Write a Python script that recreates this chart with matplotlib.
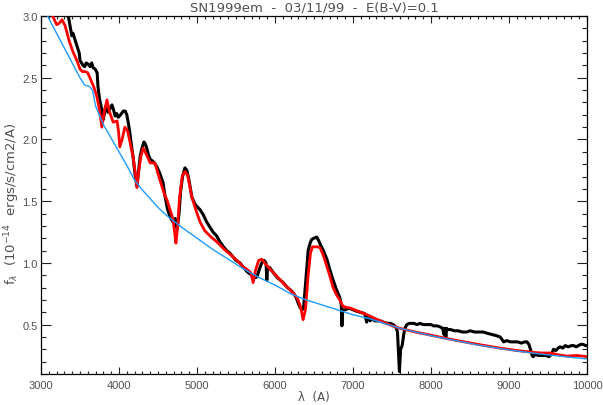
import matplotlib
matplotlib.use("Agg")
import matplotlib.pyplot as plt
from matplotlib.ticker import MultipleLocator, FormatStrFormatter

obs_wave = [3300, 3330, 3350, 3370, 3395, 3410, 3435, 3455, 3475, 3490, 3500, 3520,
            3540, 3560, 3580, 3605, 3630, 3650, 3670, 3695, 3720, 3730, 3750, 3780,
            3795, 3810, 3830, 3845, 3860, 3885, 3910, 3930, 3950, 3970, 3990, 4020,
            4055, 4080, 4100, 4120, 4140, 4160, 4180, 4205, 4230, 4250, 4270, 4295,
            4320, 4340, 4360, 4380, 4400, 4420, 4440, 4465, 4485, 4520, 4565, 4590,
            4620, 4655, 4695, 4720, 4745, 4770, 4790, 4815, 4845, 4870, 4900, 4935,
            4980, 5040, 5080, 5125, 5165, 5205, 5250, 5295, 5340, 5380, 5420, 5460,
            5500, 5550, 5600, 5640, 5680, 5720, 5750, 5770, 5800, 5830, 5860, 5885,
            5895, 5905, 5935, 5980, 6030, 6070, 6105, 6160, 6200, 6230, 6270, 6300,
            6320, 6345, 6365, 6390, 6425, 6450, 6470, 6500, 6535, 6560, 6580, 6620,
            6665, 6700, 6745, 6790, 6830, 6850, 6858, 6864, 6875, 6900, 6930, 6960,
            7000, 7040, 7090, 7150, 7175, 7185, 7200, 7220, 7240, 7260, 7280, 7300,
            7350, 7390, 7440, 7480, 7515, 7550, 7570, 7585, 7595, 7610, 7630, 7650,
            7665, 7690, 7720, 7750, 7780, 7820, 7860, 7900, 7950, 8000, 8030, 8080,
            8120, 8150, 8165, 8180, 8190, 8200, 8215, 8250, 8300, 8350, 8400, 8460,
            8500, 8560, 8620, 8670, 8720, 8780, 8840, 8885, 8910, 8930, 8970, 9020,
            9060, 9110, 9160, 9200, 9230, 9255, 9275, 9295, 9310, 9340, 9370, 9400,
            9440, 9480, 9510, 9530, 9550, 9570, 9600, 9630, 9655, 9690, 9720, 9760,
            9800, 9830, 9860, 9890, 9920, 9950, 9980, 10000]
obs_flux = [3.12, 3.06, 3.00, 2.93, 2.84, 2.86, 2.81, 2.77, 2.73, 2.70, 2.64, 2.62,
            2.60, 2.59, 2.62, 2.61, 2.59, 2.62, 2.58, 2.57, 2.54, 2.43, 2.33, 2.24,
            2.16, 2.20, 2.27, 2.24, 2.22, 2.25, 2.28, 2.24, 2.19, 2.21, 2.18, 2.20,
            2.23, 2.23, 2.20, 2.13, 2.05, 1.95, 1.86, 1.72, 1.62, 1.74, 1.86, 1.93,
            1.98, 1.96, 1.92, 1.87, 1.84, 1.83, 1.82, 1.80, 1.78, 1.73, 1.65, 1.54,
            1.44, 1.37, 1.33, 1.36, 1.27, 1.40, 1.58, 1.70, 1.77, 1.75, 1.66, 1.53,
            1.47, 1.43, 1.39, 1.33, 1.29, 1.25, 1.22, 1.17, 1.13, 1.10, 1.08, 1.05,
            1.02, 1.00, 0.96, 0.93, 0.91, 0.90, 0.88, 0.89, 0.95, 1.00, 1.02, 1.00,
            0.86, 0.97, 0.96, 0.92, 0.88, 0.86, 0.84, 0.80, 0.78, 0.76, 0.72, 0.67,
            0.64, 0.62, 0.63, 0.82, 1.10, 1.16, 1.19, 1.20, 1.21, 1.18, 1.15, 1.10,
            1.03, 0.95, 0.86, 0.78, 0.72, 0.66, 0.49, 0.60, 0.62, 0.62, 0.63, 0.63,
            0.62, 0.61, 0.60, 0.59, 0.52, 0.57, 0.55, 0.53, 0.56, 0.54, 0.53, 0.53,
            0.53, 0.52, 0.51, 0.51, 0.50, 0.48, 0.44, 0.25, 0.12, 0.30, 0.33, 0.42,
            0.47, 0.50, 0.51, 0.51, 0.51, 0.50, 0.51, 0.50, 0.50, 0.50, 0.49, 0.49,
            0.48, 0.47, 0.42, 0.47, 0.40, 0.47, 0.46, 0.46, 0.45, 0.45, 0.44, 0.44,
            0.45, 0.44, 0.44, 0.44, 0.43, 0.42, 0.41, 0.40, 0.38, 0.36, 0.37, 0.36,
            0.36, 0.36, 0.35, 0.36, 0.36, 0.34, 0.30, 0.25, 0.24, 0.26, 0.25, 0.25,
            0.25, 0.25, 0.24, 0.25, 0.27, 0.30, 0.29, 0.31, 0.32, 0.31, 0.33, 0.32,
            0.33, 0.33, 0.32, 0.33, 0.34, 0.34, 0.33, 0.33]

# synthetic model (red)
mod_wave = [3100, 3150, 3200, 3230, 3270, 3310, 3360, 3410, 3460, 3500, 3530, 3565,
            3600, 3640, 3680, 3715, 3750, 3780, 3810, 3845, 3880, 3925, 3975, 3995,
            4010, 4040, 4075, 4110, 4150, 4180, 4210, 4230, 4250, 4280, 4310, 4350,
            4400, 4460, 4525, 4580, 4615, 4655, 4690, 4715, 4730, 4750, 4775, 4810,
            4845, 4880, 4935, 4990, 5040, 5100, 5180, 5255, 5350, 5460, 5530, 5590,
            5655, 5690, 5720, 5750, 5790, 5830, 5880, 5950, 6025, 6130, 6230, 6290,
            6330, 6360, 6390, 6425, 6455, 6480, 6510, 6550, 6580, 6620, 6665, 6705,
            6745, 6790, 6830, 6870, 6910, 6960, 7060, 7180, 7280, 7390, 7500, 7600,
            7800, 8030, 8300, 8600, 8880, 9100, 9310, 9420, 9525, 9640, 9740, 9870,
            9940, 10000]
mod_flux = [3.10, 3.00, 2.93, 2.94, 2.97, 2.92, 2.80, 2.71, 2.64, 2.57, 2.55, 2.55,
            2.54, 2.48, 2.42, 2.35, 2.24, 2.10, 2.22, 2.32, 2.22, 2.14, 2.15, 2.06,
            1.94, 2.00, 2.10, 2.07, 1.95, 1.86, 1.72, 1.61, 1.73, 1.86, 1.93, 1.88,
            1.81, 1.81, 1.67, 1.56, 1.51, 1.43, 1.36, 1.24, 1.16, 1.28, 1.52, 1.70,
            1.74, 1.71, 1.53, 1.42, 1.33, 1.26, 1.21, 1.17, 1.11, 1.05, 1.01, 0.97,
            0.94, 0.92, 0.84, 0.94, 1.02, 1.03, 0.99, 0.94, 0.89, 0.82, 0.76, 0.71,
            0.64, 0.54, 0.62, 0.90, 1.08, 1.13, 1.13, 1.13, 1.12, 1.06, 0.97, 0.89,
            0.80, 0.74, 0.70, 0.65, 0.64, 0.635, 0.61, 0.58, 0.55, 0.52, 0.49, 0.47,
            0.44, 0.41, 0.375, 0.34, 0.31, 0.29, 0.275, 0.27, 0.27, 0.255, 0.245, 0.25,
            0.245, 0.24]

# continuum (blue)
cont_wave = [3000, 3100, 3200, 3300, 3400, 3500, 3560, 3620, 3660, 3700, 3800, 3900,
             4000, 4100, 4200, 4300, 4400, 4500, 4600, 4700, 4800, 5000, 5200, 5400,
             5600, 5800, 6000, 6200, 6400, 6600, 6800, 7000, 7200, 7400, 7600, 7800,
             8000, 8200, 8400, 8600, 8800, 9000, 9200, 9400, 9600, 9800, 10000]
cont_flux = [3.12, 2.98, 2.86, 2.74, 2.62, 2.50, 2.44, 2.43, 2.40, 2.27, 2.12, 2.01,
             1.90, 1.79, 1.67, 1.59, 1.52, 1.45, 1.39, 1.34, 1.29, 1.20, 1.11, 1.03,
             0.95, 0.88, 0.82, 0.75, 0.70, 0.66, 0.62, 0.58, 0.55, 0.51, 0.47, 0.44,
             0.41, 0.385, 0.36, 0.335, 0.315, 0.295, 0.278, 0.262, 0.248, 0.235, 0.222]

title = "SN1999em  -  03/11/99  -  E(B-V)=0.1"
text_color = "#505050"

plt.rcParams["mathtext.fontset"] = "dejavusans"

fig = plt.figure(figsize=(6.03, 4.06), dpi=100)
ax = fig.add_axes([0.068, 0.0764, 0.9055, 0.8816])

ax.plot(obs_wave, obs_flux, color="black", lw=2.2, zorder=2)
ax.plot(mod_wave, mod_flux, color="#ff0000", lw=2.0, zorder=3)
ax.plot(cont_wave, cont_flux, color="#1e9bff", lw=1.0, zorder=4)

ax.set_xlim(3000, 10000)
ax.set_ylim(0.1, 3.0)
ax.xaxis.set_major_locator(MultipleLocator(1000))
ax.xaxis.set_minor_locator(MultipleLocator(100))
ax.yaxis.set_major_locator(MultipleLocator(0.5))
ax.yaxis.set_minor_locator(MultipleLocator(0.1))
ax.tick_params(which="both", direction="in", top=True, right=True,
               colors="#222222", labelcolor=text_color, width=0.8)
ax.tick_params(axis="x", which="major", length=5, pad=4)
ax.tick_params(axis="x", which="minor", length=2.5)
ax.tick_params(axis="y", which="major", length=7, pad=2.5)
ax.tick_params(axis="y", which="minor", length=3.5)
ax.yaxis.set_major_formatter(FormatStrFormatter("%.1f"))
for lab in ax.get_xticklabels() + ax.get_yticklabels():
    lab.set_family("Liberation Sans")
    lab.set_fontsize(8)
for s in ax.spines.values():
    s.set_linewidth(0.9)

ax.set_title(title, color=text_color, fontsize=9.5, pad=4)
ax.set_xlabel("λ  (A)", color=text_color, fontsize=8.5)
ax.xaxis.set_label_coords(0.5, -0.045)
ax.set_ylabel(r"f$_\lambda$  (10$^{-14}$  ergs/s/cm2/A)", color=text_color,
              fontsize=9.5)
ax.yaxis.set_label_coords(-0.035, 0.478)

fig.savefig("out.png", dpi=100)
